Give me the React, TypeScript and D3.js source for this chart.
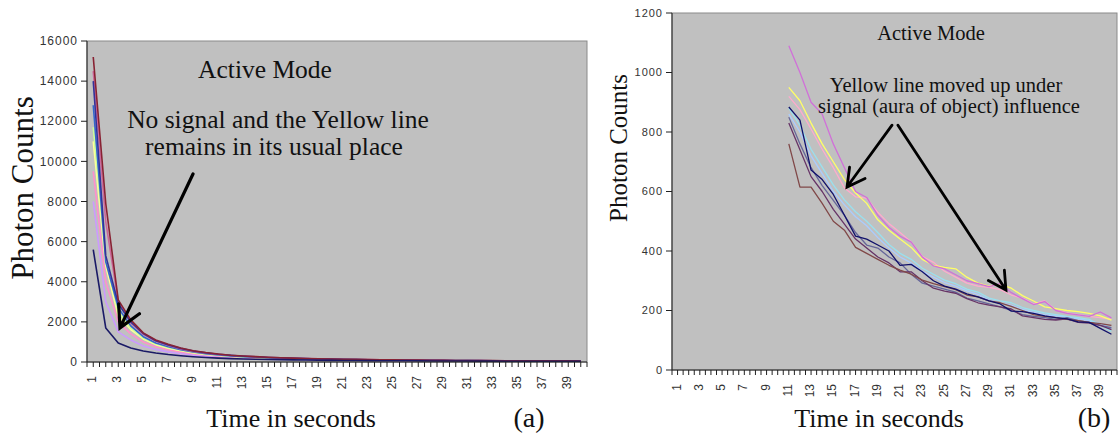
import React from 'react';
import * as d3 from 'd3';

// time axis, seconds 1..40 (labels shown on odd values only)
const timeSeconds = [
  1, 2, 3, 4, 5, 6, 7, 8, 9, 10, 11, 12, 13, 14, 15, 16, 17, 18, 19, 20,
  21, 22, 23, 24, 25, 26, 27, 28, 29, 30, 31, 32, 33, 34, 35, 36, 37, 38, 39, 40,
];
const tickLabelsA = [1, 3, 5, 7, 9, 11, 13, 15, 17, 19, 21, 23, 25, 27, 29, 31, 33, 35, 37, 39];
const yTicksA = [0, 2000, 4000, 6000, 8000, 10000, 12000, 14000, 16000];
const yTicksB = [0, 200, 400, 600, 800, 1000, 1200];

// (a) no signal - photon counts per second
const aMaroon = [15200, 7900, 3100, 2100, 1450, 1100, 880, 700, 560, 470, 400, 340, 300, 270, 240, 215, 195, 178, 165, 152, 140, 130, 122, 114, 106, 100, 94, 88, 82, 78, 74, 71, 68, 65, 62, 60, 58, 56, 54, 52];
const aMagenta = [14500, 7000, 3000, 1950, 1380, 1030, 820, 650, 530, 440, 375, 325, 285, 255, 225, 205, 185, 170, 155, 145, 135, 125, 118, 110, 104, 98, 92, 86, 80, 76, 72, 69, 66, 63, 60, 58, 56, 54, 52, 50];
const aNavy = [14000, 5300, 2900, 2000, 1420, 1060, 850, 680, 545, 455, 385, 332, 290, 258, 228, 204, 184, 168, 153, 142, 132, 123, 115, 108, 101, 95, 89, 84, 79, 75, 71, 68, 65, 62, 59, 57, 55, 53, 51, 49];
const aBlue = [12800, 5000, 2700, 1800, 1260, 950, 760, 610, 495, 412, 352, 303, 266, 236, 210, 190, 171, 156, 144, 134, 125, 117, 110, 103, 97, 91, 86, 81, 77, 73, 69, 66, 63, 60, 57, 55, 53, 51, 49, 47];
const aGreen = [11700, 5200, 2500, 1700, 1200, 905, 725, 585, 472, 392, 336, 290, 254, 226, 202, 182, 165, 151, 139, 129, 120, 112, 105, 99, 93, 88, 83, 78, 74, 70, 67, 64, 61, 58, 56, 54, 52, 50, 48, 46];
const aYellow = [11000, 4800, 2300, 1620, 1150, 865, 692, 560, 452, 378, 324, 280, 246, 219, 196, 177, 161, 147, 136, 126, 117, 109, 102, 96, 90, 85, 80, 76, 72, 68, 65, 62, 59, 57, 55, 53, 51, 49, 47, 45];
const aPink = [9500, 4000, 2000, 1400, 1000, 760, 612, 500, 410, 348, 300, 262, 232, 207, 186, 168, 153, 140, 129, 120, 112, 104, 98, 92, 86, 81, 77, 73, 69, 66, 63, 60, 57, 55, 53, 51, 49, 47, 45, 43];
const aLavender = [8000, 3000, 1500, 1100, 800, 620, 505, 415, 345, 295, 256, 225, 200, 180, 162, 148, 135, 124, 115, 107, 100, 94, 88, 83, 78, 74, 70, 66, 63, 60, 57, 55, 53, 51, 49, 47, 45, 43, 41, 40];
const aDarkNavy = [5600, 1700, 950, 700, 550, 450, 372, 312, 262, 222, 192, 170, 152, 137, 124, 113, 104, 96, 89, 83, 78, 73, 69, 65, 62, 59, 56, 53, 51, 49, 47, 45, 43, 41, 40, 39, 38, 37, 36, 35];

// (b) with signal - recorded from second 11 onward
const bMagenta = [null, null, null, null, null, null, null, null, null, null, 1090, 1000, 900, 860, 760, 680, 600, 580, 520, 480, 450, 430, 380, 350, 340, 320, 300, 290, 280, 290, 260, 240, 220, 230, 200, 190, 185, 180, 195, 175];
const bYellow = [null, null, null, null, null, null, null, null, null, null, 950, 905, 830, 760, 700, 640, 595, 560, 505, 470, 440, 412, 372, 352, 345, 340, 312, 292, 282, 288, 275, 250, 232, 212, 206, 200, 196, 190, 182, 168];
const bLightPink = [null, null, null, null, null, null, null, null, null, null, 920, 875, 810, 742, 680, 612, 582, 578, 530, 492, 462, 430, 382, 362, 332, 312, 292, 282, 278, 270, 252, 242, 222, 232, 202, 192, 186, 180, 176, 170];
const bCyan = [null, null, null, null, null, null, null, null, null, null, 880, 822, 742, 682, 622, 572, 532, 500, 462, 422, 392, 372, 342, 322, 302, 290, 272, 262, 242, 232, 226, 210, 200, 192, 186, 180, 176, 170, 150, 130];
const bLightBlue = [null, null, null, null, null, null, null, null, null, null, 860, 800, 720, 660, 600, 555, 515, 485, 445, 410, 380, 360, 332, 312, 294, 282, 266, 254, 236, 226, 218, 204, 194, 186, 182, 178, 172, 166, 156, 140];
const bNavy = [null, null, null, null, null, null, null, null, null, null, 884, 840, 672, 640, 590, 520, 450, 440, 420, 400, 352, 355, 330, 300, 282, 272, 256, 246, 232, 222, 198, 196, 190, 182, 176, 172, 162, 160, 140, 120];
const bSlate = [null, null, null, null, null, null, null, null, null, null, 850, 760, 680, 620, 570, 520, 462, 420, 410, 380, 360, 322, 292, 282, 272, 262, 242, 232, 222, 212, 200, 186, 180, 176, 170, 176, 166, 160, 150, 142];
const bMaroon = [null, null, null, null, null, null, null, null, null, null, 760, 615, 615, 560, 500, 470, 412, 392, 372, 352, 336, 322, 302, 290, 280, 270, 252, 246, 232, 226, 214, 200, 186, 180, 176, 170, 166, 160, 156, 150];
const bPurple = [null, null, null, null, null, null, null, null, null, null, 830, 740, 650, 600, 540, 490, 440, 410, 380, 360, 330, 330, 300, 275, 265, 258, 240, 226, 218, 212, 205, 182, 176, 170, 168, 172, 160, 158, 150, 136];

const seriesA = [
  { values: aLavender, color: '#cc99ff' },
  { values: aPink, color: '#ff8fcc' },
  { values: aYellow, color: '#ffff99' },
  { values: aGreen, color: '#ccff99' },
  { values: aBlue, color: '#3366cc' },
  { values: aMagenta, color: '#cc6699' },
  { values: aNavy, color: '#333399' },
  { values: aMaroon, color: '#882233' },
  { values: aDarkNavy, color: '#1a1a66' },
];
const seriesB = [
  { values: bLightBlue, color: '#aaccff' },
  { values: bCyan, color: '#99e0ee' },
  { values: bLightPink, color: '#ffaacc' },
  { values: bYellow, color: '#ffff66' },
  { values: bMagenta, color: '#d070d8' },
  { values: bSlate, color: '#666699' },
  { values: bPurple, color: '#663366' },
  { values: bMaroon, color: '#804848' },
  { values: bNavy, color: '#10106a' },
];

const SERIF = '"Liberation Serif"';
const SANS = '"Liberation Sans"';

type Panel = {
  left: number; right: number; top: number; bottom: number; yMax: number;
  yTicks: number[]; series: { values: (number | null)[]; color: string }[];
  tickFont: number; lineWidth: number;
};

function arrow(x1: number, y1: number, x2: number, y2: number, len: number) {
  const a = Math.atan2(y2 - y1, x2 - x1);
  const s = 0.5;
  const b1 = [x2 - len * Math.cos(a - s), y2 - len * Math.sin(a - s)];
  const b2 = [x2 - len * Math.cos(a + s), y2 - len * Math.sin(a + s)];
  return `M${x1},${y1}L${x2},${y2}M${b1[0]},${b1[1]}L${x2},${y2}L${b2[0]},${b2[1]}`;
}

function ChartPanel({ p, children }: { p: Panel; children?: (x: d3.ScaleLinear<number, number>, y: d3.ScaleLinear<number, number>) => React.ReactNode }) {
  const band = d3.scaleBand<number>().domain(timeSeconds).range([p.left, p.right]);
  const xc = (t: number) => (band(t) as number) + band.bandwidth() / 2;
  const xLin = d3.scaleLinear().domain([0.5, 40.5]).range([p.left, p.right]);
  const y = d3.scaleLinear().domain([0, p.yMax]).range([p.bottom, p.top]);
  const line = d3.line<number | null>()
    .defined(d => d !== null)
    .x((_, i) => xc(timeSeconds[i]))
    .y(d => y(d as number));
  const halfTicks = d3.range(0, 81).map(k => p.left + k * band.bandwidth() / 2);

  return (
    <g>
      <rect x={p.left} y={p.top} width={p.right - p.left} height={p.bottom - p.top} fill="#c0c0c0" stroke="#8a8a8a" strokeWidth={1} />
      {p.series.map((s, i) => (
        <path key={i} d={line(s.values) || ''} fill="none" stroke={s.color} strokeWidth={p.lineWidth} strokeLinejoin="round" />
      ))}
      {/* y axis */}
      <line x1={p.left} x2={p.left} y1={p.top} y2={p.bottom} stroke="#222" />
      {p.yTicks.map(v => (
        <g key={v}>
          <line x1={p.left - 6} x2={p.left} y1={y(v)} y2={y(v)} stroke="#222" />
          <text x={p.left - 9} y={y(v)} dy="0.35em" textAnchor="end" style={{ fontFamily: SANS, fontSize: p.tickFont, letterSpacing: 1 }} fill="#333">{v}</text>
        </g>
      ))}
      {/* x axis */}
      <line x1={p.left} x2={p.right} y1={p.bottom} y2={p.bottom} stroke="#222" />
      {halfTicks.map((tx, i) => (
        <line key={i} x1={tx} x2={tx} y1={p.bottom} y2={p.bottom + 5} stroke="#222" />
      ))}
      {tickLabelsA.map(t => (
        <text key={t} transform={`translate(${xc(t) + 3},${p.bottom + 14}) rotate(-90)`} textAnchor="end" style={{ fontFamily: SANS, fontSize: 12 }} fill="#333">{t}</text>
      ))}
      {children && children(xLin, y)}
    </g>
  );
}

const panelA: Panel = { left: 87, right: 587, top: 41, bottom: 362, yMax: 16000, yTicks: yTicksA, series: seriesA, tickFont: 12, lineWidth: 1.6 };
const panelB: Panel = { left: 672, right: 1117, top: 13, bottom: 370, yMax: 1200, yTicks: yTicksB, series: seriesB, tickFont: 11, lineWidth: 1.3 };

const serifStyle = (size: number): React.CSSProperties => ({ fontFamily: SERIF, fontSize: size });

export default function App() {
  return (
    <svg width={1118} height={437} style={{ position: 'absolute', left: 0, top: 0, background: '#fff' }}>
      <ChartPanel p={panelA}>
        {(x, y) => (
          <g>
            <path d={arrow(x(8.98), y(9370), x(3.14), y(1700), 24)} fill="none" stroke="#000" strokeWidth={3.2} strokeLinecap="round" />
          </g>
        )}
      </ChartPanel>
      <ChartPanel p={panelB}>
        {(x, y) => (
          <g>
            <path d={arrow(x(20.28), y(823), x(16.23), y(615), 20)} fill="none" stroke="#000" strokeWidth={2.8} strokeLinecap="round" />
            <path d={arrow(x(20.81), y(823), x(30.52), y(269), 20)} fill="none" stroke="#000" strokeWidth={2.8} strokeLinecap="round" />
          </g>
        )}
      </ChartPanel>

      {/* annotations (a) */}
      <g fill="#111">
        <text x={265} y={78} textAnchor="middle" style={serifStyle(25.5)}>Active Mode</text>
        <text x={278} y={128} textAnchor="middle" style={serifStyle(25.5)}>No signal and the Yellow line</text>
        <text x={274} y={155} textAnchor="middle" style={serifStyle(25.5)}>remains in its usual place</text>
        <text transform="translate(33,188) rotate(-90)" textAnchor="middle" style={serifStyle(31)}>Photon Counts</text>
        <text x={291} y={427} textAnchor="middle" style={serifStyle(26)}>Time in seconds</text>
        <text x={529} y={427} textAnchor="middle" style={serifStyle(28)}>(a)</text>
      </g>

      {/* annotations (b) */}
      <g fill="#111">
        <text x={931} y={40} textAnchor="middle" style={serifStyle(20.5)}>Active Mode</text>
        <text x={946} y={92} textAnchor="middle" style={serifStyle(20.5)}>Yellow line moved up under</text>
        <text x={949} y={113} textAnchor="middle" style={serifStyle(20.5)}>signal (aura of object) influence</text>
        <text transform="translate(627,148) rotate(-90)" textAnchor="middle" style={serifStyle(25)}>Photon Counts</text>
        <text x={879} y={427} textAnchor="middle" style={serifStyle(26)}>Time in seconds</text>
        <text x={1094} y={427} textAnchor="middle" style={serifStyle(28)}>(b)</text>
      </g>
    </svg>
  );
}
